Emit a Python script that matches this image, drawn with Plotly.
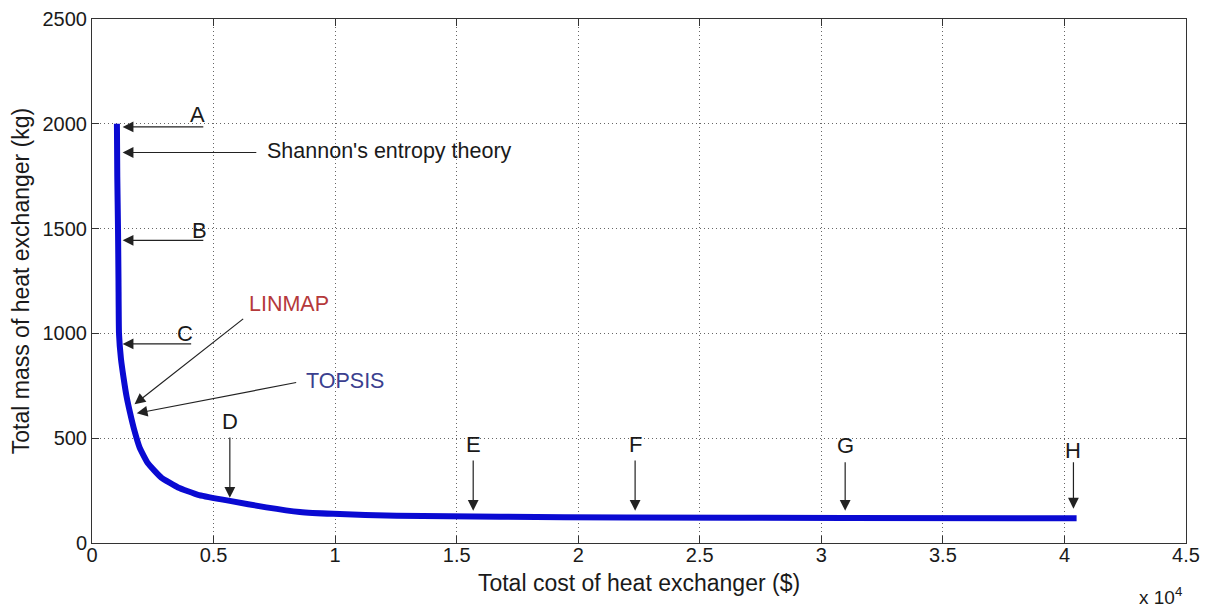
import plotly.graph_objects as go

# Pareto front: total cost ($) vs total mass (kg)
cost_usd = [1025, 1040, 1070, 1090, 1110, 1190, 1300, 1420, 1550, 1750, 1960, 2300,
            2850, 3540, 4360, 5320, 5670, 7170, 8550, 9920, 12530, 16800, 22000,
            31000, 40500]
mass_kg = [2000, 1750, 1500, 1250, 1000, 880, 787, 700, 629, 534, 455, 380,
           312, 265, 230, 208, 201, 170, 148, 139, 130, 125, 122,
           119, 118]

x_tick_vals = [0, 0.5, 1, 1.5, 2, 2.5, 3, 3.5, 4, 4.5]
x_tick_text = ["0", "0.5", "1", "1.5", "2", "2.5", "3", "3.5", "4", "4.5"]
y_tick_vals = [0, 500, 1000, 1500, 2000, 2500]

# Horizontal arrows A, B, C
left_labels = ["A", "B", "C"]
left_arrow_y = [1985, 1444, 950]
left_tail_x = [0.464, 0.464, 0.414]
left_text_x = [0.435, 0.443, 0.381]
left_text_y = [2043, 1493, 999]
head_x = 0.126

# Downward arrows D..H
down_labels = ["D", "E", "F", "G", "H"]
down_x = [0.567, 1.568, 2.234, 3.098, 4.037]
down_text_y = [581, 472, 472, 463, 439]
down_tail_y = [510, 401, 401, 392, 392]
down_head_y = [216, 154, 154, 154, 164]

font_family = "Arial, Liberation Sans, sans-serif"
ink = "#1a1a1a"

fig = go.Figure()
fig.add_trace(go.Scatter(
    x=[c / 1e4 for c in cost_usd], y=mass_kg, mode="lines",
    line=dict(color="#0a0ad2", width=6, shape="spline", smoothing=0.4),
    showlegend=False, hoverinfo="skip"))

ann = []
arrow_style = dict(showarrow=True, arrowhead=2, arrowsize=1.8, arrowwidth=1.2,
                   arrowcolor="#222", axref="x", ayref="y", xref="x", yref="y",
                   text="", standoff=0, startstandoff=0)
txt_style = dict(showarrow=False, xref="x", yref="y",
                 font=dict(family=font_family, size=22, color=ink))

for lab, y, tx, lx, ly in zip(left_labels, left_arrow_y, left_tail_x, left_text_x, left_text_y):
    ann.append(dict(x=head_x, y=y, ax=tx, ay=y, **arrow_style))
    ann.append(dict(x=lx, y=ly, text=lab, **txt_style))

# Shannon's entropy theory
ann.append(dict(x=head_x, y=1863, ax=0.682, ay=1863, **arrow_style))
ann.append(dict(x=0.71, y=1872, text="Shannon's entropy theory", xanchor="left",
                showarrow=False, xref="x", yref="y",
                font=dict(family=font_family, size=21.5, color=ink)))

# LINMAP
ann.append(dict(x=0.175, y=662, ax=0.628, ay=1075, **arrow_style))
ann.append(dict(x=0.809, y=1141, text="LINMAP", showarrow=False, xref="x", yref="y",
                font=dict(family=font_family, size=21.5, color="#b5393b")))
# TOPSIS
ann.append(dict(x=0.184, y=619, ax=0.846, ay=767, **arrow_style))
ann.append(dict(x=1.04, y=771, text="TOPSIS", showarrow=False, xref="x", yref="y",
                font=dict(family=font_family, size=21.5, color="#3b3f8f")))

for lab, x, ty, t0, h in zip(down_labels, down_x, down_text_y, down_tail_y, down_head_y):
    ann.append(dict(x=x, y=h, ax=x, ay=t0, **arrow_style))
    ann.append(dict(x=x, y=ty, text=lab, **txt_style))

ann.append(dict(x=0.977, y=-0.102, xref="paper", yref="paper", showarrow=False,
                text="x 10<sup>4</sup>", xanchor="center", yanchor="middle",
                font=dict(family=font_family, size=19, color=ink)))

axis_common = dict(showline=True, linecolor="#333", linewidth=1, mirror="ticks",
                   ticks="inside", ticklen=7, tickcolor="#333", automargin=False,
                   ticklabeloverflow="allow",
                   showgrid=True, gridcolor="#666", griddash="1px,3px", gridwidth=1,
                   zeroline=False, tickfont=dict(family=font_family, size=20, color=ink))

# the page body adds an 8px offset, so margins are shifted to compensate
fig.update_layout(
    width=1211, height=609,
    margin=dict(l=84, r=33, t=11, b=74),
    paper_bgcolor="white", plot_bgcolor="white",
    annotations=ann,
    xaxis=dict(range=[0, 4.5], tickvals=x_tick_vals, ticktext=x_tick_text,
               ticklabelstandoff=-6,
               title=dict(text="Total cost of heat exchanger ($)", standoff=9,
                          font=dict(family=font_family, size=23, color=ink)),
               **axis_common),
    yaxis=dict(range=[0, 2500], tickvals=y_tick_vals,
               title=dict(text="Total mass of heat exchanger (kg)", standoff=10,
                          font=dict(family=font_family, size=23, color=ink)),
               **axis_common),
)

fig.write_html("out.html")
